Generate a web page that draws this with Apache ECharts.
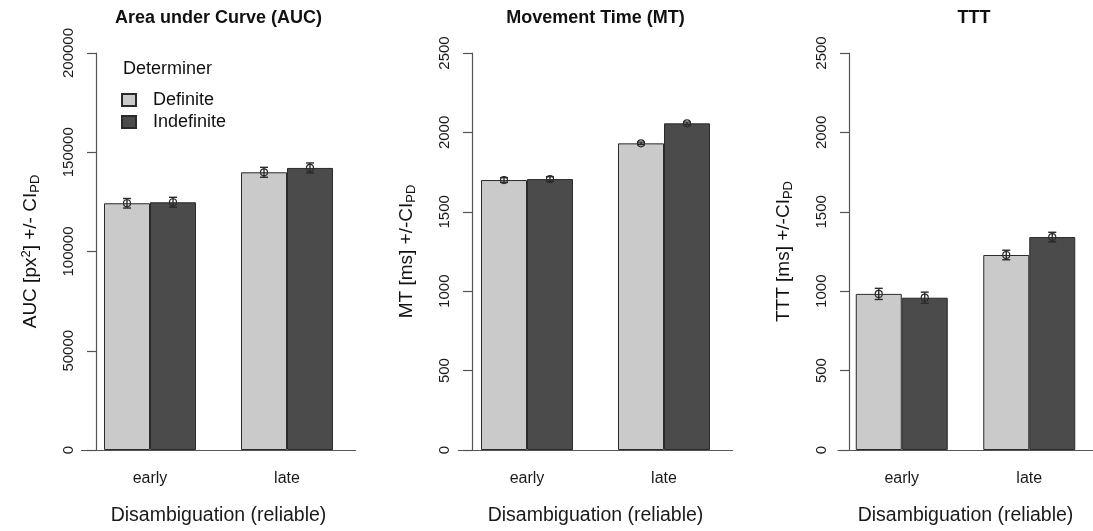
<!DOCTYPE html>
<html>
<head>
<meta charset="utf-8">
<script src="https://cdn.jsdelivr.net/npm/echarts@6/dist/echarts.min.js"></script>
<style>
  html, body { margin: 0; padding: 0; background: #fff; }
  #chart { width: 1093px; height: 531px; }
</style>
</head>
<body>
<div id="chart"></div>
<script>
// data
var categories = ['early', 'late'];

var aucDefinite = [124300, 139900];
var aucIndefinite = [124800, 142100];
var aucDefiniteCI = [2400, 2500];
var aucIndefiniteCI = [2500, 2500];

var mtDefinite = [1700, 1931];
var mtIndefinite = [1706, 2057];
var mtDefiniteCI = [15, 8];
var mtIndefiniteCI = [15, 8];

var tttDefinite = [983, 1228];
var tttIndefinite = [959, 1341];
var tttDefiniteCI = [35, 30];
var tttIndefiniteCI = [35, 30];

var FONT = 'Liberation Sans, Arial, sans-serif';
var LIGHT = '#cacaca';
var DARK = '#4b4b4b';
var BAR_W = 46;

function errorData(def, defCI, indef, indefCI) {
  var out = [];
  for (var i = 0; i < categories.length; i++) {
    out.push([i, def[i], defCI[i], -1]);
    out.push([i, indef[i], indefCI[i], 1]);
  }
  return out;
}

function renderError(params, api) {
  var idx = api.value(0), mean = api.value(1), ci = api.value(2), side = api.value(3);
  var c = api.coord([idx, mean]);
  var x = c[0] + side * BAR_W / 2;
  var top = api.coord([idx, mean + ci])[1];
  var bot = api.coord([idx, mean - ci])[1];
  var st = { stroke: '#2a2a2a', lineWidth: 1.4, fill: null };
  return {
    type: 'group',
    children: [
      { type: 'line', shape: { x1: x, y1: top, x2: x, y2: bot }, style: st },
      { type: 'line', shape: { x1: x - 4, y1: top, x2: x + 4, y2: top }, style: st },
      { type: 'line', shape: { x1: x - 4, y1: bot, x2: x + 4, y2: bot }, style: st },
      { type: 'circle', shape: { cx: x, cy: c[1], r: 3.5 }, style: { stroke: '#2a2a2a', lineWidth: 1.2, fill: 'rgba(0,0,0,0)' } }
    ]
  };
}

var panels = [
  { title: 'Area under Curve (AUC)', left: 81.5, width: 274, axisX: 96, max: 200000, interval: 50000,
    name: '{n|AUC [px}{sup|2}{n|] +/- CI}{sub|PD}',
    def: aucDefinite, indef: aucIndefinite, defCI: aucDefiniteCI, indefCI: aucIndefiniteCI },
  { title: 'Movement Time (MT)', left: 458.5, width: 274, axisX: 472, max: 2500, interval: 500,
    name: '{n|MT [ms] +/-CI}{sub|PD}',
    def: mtDefinite, indef: mtIndefinite, defCI: mtDefiniteCI, indefCI: mtIndefiniteCI },
  { title: 'TTT', left: 838, width: 272, axisX: 849, max: 2500, interval: 500,
    name: '{n|TTT [ms] +/-CI}{sub|PD}',
    def: tttDefinite, indef: tttIndefinite, defCI: tttDefiniteCI, indefCI: tttIndefiniteCI }
];

var grids = [], xAxes = [], yAxes = [], series = [], titles = [];

panels.forEach(function (p, i) {
  grids.push({ left: p.left, top: 53, width: p.width, height: 397 });
  titles.push({
    text: p.title, left: p.left + p.width / 2, top: 9, textAlign: 'center', padding: 0,
    textStyle: { fontFamily: FONT, fontSize: 18, fontWeight: 'bold', color: '#111' }
  });
  xAxes.push({
    type: 'category', gridIndex: i, data: categories,
    axisLine: { lineStyle: { color: '#555', width: 1.2 } },
    axisTick: { alignWithLabel: true, length: 10, lineStyle: { color: '#555', width: 1.2 } },
    axisLabel: { margin: 21, fontFamily: FONT, fontSize: 16, color: '#1a1a1a' },
    name: 'Disambiguation (reliable)', nameLocation: 'middle', nameGap: 56,
    nameTextStyle: { fontFamily: FONT, fontSize: 19.5, color: '#1a1a1a' }
  });
  yAxes.push({
    type: 'value', gridIndex: i, min: 0, max: p.max, interval: p.interval,
    offset: -(p.axisX - p.left),
    splitLine: { show: false },
    axisLine: { show: true, lineStyle: { color: '#555', width: 1.2 } },
    axisTick: { show: true, length: 9, lineStyle: { color: '#555', width: 1.2 } },
    axisLabel: {
      rotate: 90, margin: 20, fontFamily: FONT, fontSize: 15, color: '#1a1a1a',
      formatter: function (v) { return String(v); }
    },
    name: p.name, nameLocation: 'middle', nameRotate: 90, nameGap: 54,
    nameTextStyle: {
      fontFamily: FONT, fontSize: 19, color: '#111', lineHeight: 30,
      rich: {
        n: { fontFamily: FONT, fontSize: 19, color: '#111', verticalAlign: 'middle', lineHeight: 22 },
        sup: { fontFamily: FONT, fontSize: 13, color: '#111', verticalAlign: 'top', lineHeight: 14 },
        sub: { fontFamily: FONT, fontSize: 13, color: '#111', verticalAlign: 'bottom', lineHeight: 14 }
      }
    }
  });
  series.push({
    name: 'Definite', type: 'bar', xAxisIndex: i, yAxisIndex: i, data: p.def,
    barWidth: BAR_W, barGap: '0%',
    itemStyle: { color: LIGHT, borderColor: '#2a2a2a', borderWidth: 1 }
  });
  series.push({
    name: 'Indefinite', type: 'bar', xAxisIndex: i, yAxisIndex: i, data: p.indef,
    barWidth: BAR_W, barGap: '0%',
    itemStyle: { color: DARK, borderColor: '#2a2a2a', borderWidth: 1 }
  });
  series.push({
    type: 'custom', xAxisIndex: i, yAxisIndex: i, z: 5,
    data: errorData(p.def, p.defCI, p.indef, p.indefCI),
    encode: { x: 0, y: 1 },
    renderItem: renderError
  });
});

titles.push({
  text: 'Determiner', left: 123, top: 60, padding: 0,
  textStyle: { fontFamily: FONT, fontSize: 18, fontWeight: 'normal', color: '#111' }
});

var chart = echarts.init(document.getElementById('chart'));
chart.setOption({
  animation: false,
  backgroundColor: '#fff',
  title: titles,
  legend: {
    data: ['Definite', 'Indefinite'], orient: 'vertical', left: 121, top: 91, padding: 0,
    itemWidth: 14, itemHeight: 12, itemGap: 4, icon: 'rect',
    textStyle: { fontFamily: FONT, fontSize: 18, color: '#111', padding: [0, 0, 0, 12] }
  },
  grid: grids,
  xAxis: xAxes,
  yAxis: yAxes,
  series: series
});
</script>
</body>
</html>
